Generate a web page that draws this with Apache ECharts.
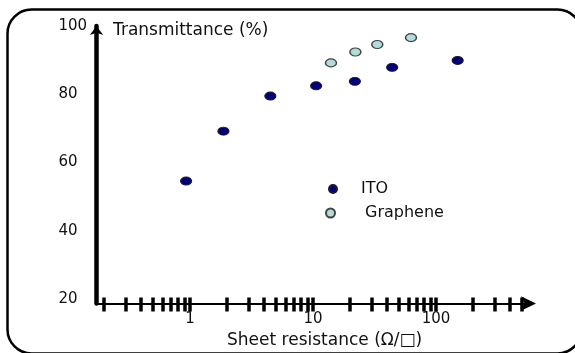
<!DOCTYPE html>
<html>
<head>
<meta charset="utf-8">
<script src="https://cdn.jsdelivr.net/npm/echarts@6/dist/echarts.min.js"></script>
<style>
html,body{margin:0;padding:0;background:#fff;}
#chart{width:575px;height:353px;}
</style>
</head>
<body>
<div id="chart"></div>
<script>
// ---- data ----
const itoResistance = [0.93, 1.87, 4.5, 10.6, 21.9, 44, 150];
const itoTransmittance = [54.6, 69.2, 79.5, 82.5, 83.8, 87.9, 89.9];
const grapheneResistance = [14, 22.1, 33.3, 62.6];
const grapheneTransmittance = [89.2, 92.4, 94.6, 96.6];
const seriesNames = ['ITO', 'Graphene'];
const yTickLabels = [20, 40, 60, 80, 100];
const xTickLabels = [1, 10, 100];
const xMinorTicks = [0.2,0.3,0.4,0.5,0.6,0.7,0.8,0.9,1,2,3,4,5,6,7,8,9,10,20,30,40,50,60,70,80,90,100,200,300,400,500];
const yTitle = 'Transmittance (%)';
const xTitle = 'Sheet resistance (Ω/□)';

const FONT = 'DejaVu Sans';
const xMin = 0.1738, xMax = 570, yMin = 18.74, yMax = 100;

const toPairs = (xs, ys) => xs.map((x, i) => [x, ys[i]]);

const chart = echarts.init(document.getElementById('chart'), null, {renderer: 'canvas'});
const gridBox = {left: 96.5, right: 46, top: 26, bottom: 49.5, containLabel: false};

chart.setOption({
  animation: false,
  backgroundColor: '#fff',
  grid: [Object.assign({}, gridBox), Object.assign({}, gridBox)],
  title: [
    {text: yTitle, left: 113, top: 22, padding: 0,
     textStyle: {fontFamily: FONT, fontSize: 17, fontWeight: 'normal', color: '#111'}},
    {text: xTitle, left: 227, top: 332, padding: 0,
     textStyle: {fontFamily: FONT, fontSize: 17, fontWeight: 'normal', color: '#111'}}
  ],
  legend: [
    {data: [seriesNames[0]], left: 328, top: 181, padding: 0, itemWidth: 12, itemHeight: 8,
     symbolKeepAspect: false,
     textStyle: {fontFamily: FONT, fontSize: 16, color: '#111', padding: [0, 0, 0, 17]}},
    {data: [seriesNames[1]], left: 325, top: 205, padding: 0, itemWidth: 13, itemHeight: 9,
     symbolKeepAspect: false,
     textStyle: {fontFamily: FONT, fontSize: 16, color: '#111', padding: [0, 0, 0, 23]}}
  ],
  xAxis: [
    {type: 'log', gridIndex: 0, min: xMin, max: xMax, position: 'bottom',
     axisLine: {show: true, onZero: false, lineStyle: {color: '#000', width: 2},
                symbol: ['none', 'arrow'], symbolSize: [11, 15], symbolOffset: [0, 7]},
     axisTick: {show: true, inside: false, length: 8, customValues: xMinorTicks,
                lineStyle: {color: '#000', width: 3.5}},
     axisLabel: {show: true, customValues: xTickLabels, margin: 8,
                 fontFamily: FONT, fontSize: 15, color: '#111'},
     splitLine: {show: false}, minorTick: {show: false}},
    {type: 'log', gridIndex: 1, min: xMin, max: xMax, position: 'bottom',
     axisLine: {show: false, onZero: false},
     axisTick: {show: true, inside: true, length: 6, customValues: xMinorTicks,
                lineStyle: {color: '#000', width: 3.5}},
     axisLabel: {show: false},
     splitLine: {show: false}}
  ],
  yAxis: [
    {type: 'value', gridIndex: 0, min: yMin, max: yMax,
     axisLine: {show: true, onZero: false, lineStyle: {color: '#000', width: 4.5},
                symbol: ['none', 'arrow'], symbolSize: [10, 9]},
     axisTick: {show: false},
     axisLabel: {show: true, customValues: yTickLabels, align: 'left', margin: 38,
                 fontFamily: FONT, fontSize: 15, color: '#111'},
     splitLine: {show: false}},
    {type: 'value', gridIndex: 1, min: yMin, max: yMax, show: false,
     axisLine: {show: false}, axisTick: {show: false}, axisLabel: {show: false}, splitLine: {show: false}}
  ],
  series: [
    {name: seriesNames[0], type: 'scatter', xAxisIndex: 0, yAxisIndex: 0,
     symbol: 'circle', symbolSize: [11, 8],
     itemStyle: {color: '#00007a', borderColor: '#1a1a2a', borderWidth: 1, opacity: 1},
     data: toPairs(itoResistance, itoTransmittance)},
    {name: seriesNames[1], type: 'scatter', xAxisIndex: 0, yAxisIndex: 0,
     symbol: 'circle', symbolSize: [11, 8],
     itemStyle: {color: '#b2dcdc', borderColor: '#444', borderWidth: 1.3, opacity: 1},
     data: toPairs(grapheneResistance, grapheneTransmittance)}
  ],
  graphic: [
    {type: 'rect', left: 5, top: 7, silent: true, z: 100,
     shape: {width: 574, height: 344, r: 24},
     style: {fill: 'none', stroke: '#000', lineWidth: 2.5}}
  ]
});
</script>
</body>
</html>
